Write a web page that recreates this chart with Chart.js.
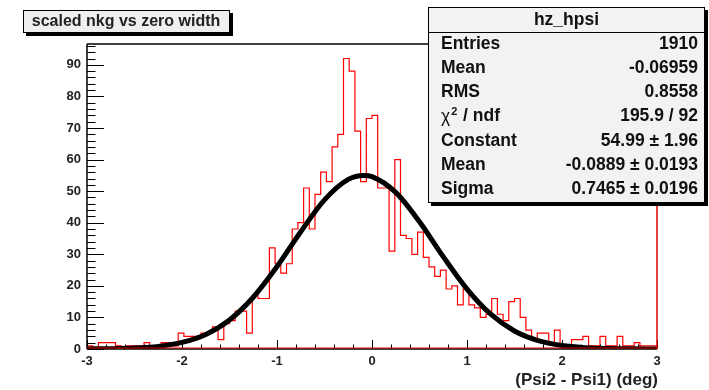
<!DOCTYPE html>
<html>
<head>
<meta charset="utf-8">
<script src="https://cdn.jsdelivr.net/npm/chart.js@4"></script>
<style>
  html, body { margin: 0; padding: 0; background: #fff; }
  canvas { display: block; }
</style>
</head>
<body>
<canvas id="histChart" width="709" height="390"></canvas>
<script>
const histTitle = 'scaled nkg vs zero width';
const histName = 'hz_hpsi';
const axisTitle = '(Psi2 - Psi1) (deg)';

// 100 bins from -3 to 3
const xMin = -3;
const xMax = 3;
const counts = [
  1, 0, 2, 2, 2, 1, 0, 1, 1, 1,
  2, 1, 1, 2, 2, 1, 5, 4, 4, 4,
  5, 5, 7, 3, 8, 9, 12, 12, 5, 17,
  16, 16, 32, 27, 24, 27, 38, 40, 51, 38,
  49, 56, 53, 64, 68, 92, 88, 69, 53, 73,
  74, 51, 51, 31, 60, 36, 35, 30, 37, 29,
  26, 23, 25, 19, 20, 14, 19, 14, 13, 10,
  11, 16, 11, 9, 15, 16, 10, 6, 3, 5,
  5, 2, 6, 1, 1, 3, 3, 4, 1, 1,
  4, 1, 1, 4, 1, 1, 2, 1, 1, 1
];

// gaussian fit curve
const fitX = [-3, -2.75, -2.5, -2.25, -2, -1.75, -1.5, -1.25, -1, -0.75, -0.5, -0.25, -0.09,
  0, 0.25, 0.5, 0.75, 1, 1.25, 1.5, 1.75, 2, 2.25, 2.5, 2.75, 3];
const fitY = [0.03, 0.10, 0.30, 0.83, 2.08, 4.62, 9.21, 16.40, 26.11, 37.15, 47.25, 53.73, 54.99,
  54.60, 49.61, 40.29, 29.24, 18.98, 11.01, 5.71, 2.65, 1.10, 0.41, 0.13, 0.04, 0.01];

const xTickLabels = [-3, -2, -1, 0, 1, 2, 3];
const yTickLabels = [0, 10, 20, 30, 40, 50, 60, 70, 80, 90];
const yMax = 96.6;

const statLabels = ['Entries', 'Mean', 'RMS', 'χ2 / ndf', 'Constant', 'Mean', 'Sigma'];
const statValues = ['1910', '-0.06959', '0.8558', '195.9 / 92', '54.99 ± 1.96', '-0.0889 ± 0.0193', '0.7465 ± 0.0196'];

const FONT = '"Liberation Sans", Arial, Helvetica, sans-serif';

const binWidth = (xMax - xMin) / counts.length;
const histPoints = [{ x: xMin, y: 0 }];
counts.forEach((c, i) => histPoints.push({ x: xMin + i * binWidth, y: c }));
histPoints.push({ x: xMax, y: counts[counts.length - 1] });
histPoints.push({ x: xMax, y: 0 });

const fitPoints = fitX.map((v, i) => ({ x: v, y: fitY[i] }));

function line(ctx, x1, y1, x2, y2) {
  ctx.beginPath();
  ctx.moveTo(x1, y1);
  ctx.lineTo(x2, y2);
  ctx.stroke();
}

function shadowBox(ctx, x1, y1, x2, y2, fill) {
  ctx.fillStyle = '#000';
  ctx.fillRect(x1 + 3, y1 + 3, x2 - x1, y2 - y1);
  ctx.fillStyle = fill;
  ctx.fillRect(x1, y1, x2 - x1, y2 - y1);
  ctx.strokeStyle = '#000';
  ctx.lineWidth = 1;
  ctx.strokeRect(x1 + 0.5, y1 + 0.5, x2 - x1 - 1, y2 - y1 - 1);
}

const rootFrame = {
  id: 'rootFrame',
  afterDatasetsDraw(chart) {
    const { ctx, chartArea: a, scales: { x, y } } = chart;
    ctx.save();
    ctx.strokeStyle = '#000';
    ctx.lineWidth = 1;
    // y ticks, major every 10, minor every 2
    for (let i = 0; i * 2 <= yMax; i++) {
      const py = Math.round(y.getPixelForValue(i * 2)) + 0.5;
      const len = i % 5 === 0 ? 17 : 8.5;
      line(ctx, a.left, py, a.left + len, py);
    }
    // x ticks, major every 1, minor every 0.2
    for (let i = 0; i <= 30; i++) {
      const px = Math.round(x.getPixelForValue(xMin + i * 0.2)) + 0.5;
      const len = i % 5 === 0 ? 9 : 4.5;
      line(ctx, px, a.bottom, px, a.bottom - len);
    }
    // frame
    ctx.lineWidth = 1.5;
    line(ctx, a.left, a.top, a.right, a.top);
    line(ctx, a.left, a.top, a.left, a.bottom);
    line(ctx, a.left, a.bottom, a.right, a.bottom);
    ctx.strokeStyle = '#e00000';
    line(ctx, a.right, a.top, a.right, a.bottom);
    ctx.lineWidth = 1.2;
    line(ctx, a.left, a.bottom - 1, a.right, a.bottom - 1);
    ctx.restore();
  },
  afterDraw(chart) {
    const { ctx, chartArea: a, scales: { x, y } } = chart;
    ctx.save();
    ctx.fillStyle = '#222';
    ctx.font = 'bold 13px ' + FONT;
    ctx.textAlign = 'right';
    ctx.textBaseline = 'middle';
    yTickLabels.forEach(v => ctx.fillText(String(v), a.left - 6, y.getPixelForValue(v)));
    ctx.textAlign = 'center';
    xTickLabels.forEach(v => ctx.fillText(String(v), x.getPixelForValue(v), a.bottom + 12));

    ctx.font = 'bold 17px ' + FONT;
    ctx.textAlign = 'right';
    ctx.fillText(axisTitle, a.right + 1, 380);

    // title box
    shadowBox(ctx, 23, 10, 230, 33, '#efefef');
    ctx.fillStyle = '#222';
    ctx.font = 'bold 16px ' + FONT;
    ctx.textAlign = 'center';
    ctx.fillText(histTitle, 126, 22);

    // stats box
    const bx1 = 428, bx2 = 705, by1 = 7, by2 = 203;
    shadowBox(ctx, bx1, by1, bx2, by2, '#f2f2f2');
    ctx.strokeStyle = '#000';
    line(ctx, bx1, 32.5, bx2, 32.5);
    ctx.fillStyle = '#111';
    ctx.font = 'bold 17.5px ' + FONT;
    ctx.fillText(histName, (bx1 + bx2) / 2, 20);
    statLabels.forEach((lab, i) => {
      const ry = 44 + i * 24.2;
      ctx.textAlign = 'left';
      if (lab.startsWith('χ')) {
        ctx.font = '17.5px ' + FONT;
        ctx.fillText('χ', 441, ry + 1);
        const w = ctx.measureText('χ').width;
        ctx.font = 'bold 11px ' + FONT;
        ctx.fillText('2', 441 + w + 1, ry - 5);
        ctx.font = 'bold 17.5px ' + FONT;
        ctx.fillText(lab.slice(2), 441 + w + 8, ry);
      } else {
        ctx.font = 'bold 17.5px ' + FONT;
        ctx.fillText(lab, 441, ry);
      }
      ctx.textAlign = 'right';
      ctx.fillText(statValues[i], 698, ry);
    });
    ctx.restore();
  }
};

new Chart(document.getElementById('histChart'), {
  type: 'line',
  data: {
    datasets: [
      {
        label: histName,
        data: histPoints,
        borderColor: '#ff0000',
        borderWidth: 1.2,
        stepped: true,
        pointRadius: 0,
        fill: false,
        order: 2
      },
      {
        label: 'gaus',
        data: fitPoints,
        borderColor: '#000',
        borderWidth: 5,
        cubicInterpolationMode: 'monotone',
        pointRadius: 0,
        fill: false,
        order: 1
      }
    ]
  },
  options: {
    responsive: false,
    animation: false,
    layout: { padding: { left: 87, right: 52, top: 44, bottom: 41 } },
    scales: {
      x: { type: 'linear', min: xMin, max: xMax, display: false },
      y: { type: 'linear', min: 0, max: yMax, display: false }
    },
    plugins: {
      legend: { display: false },
      tooltip: { enabled: false }
    }
  },
  plugins: [rootFrame]
});
</script>
</body>
</html>
